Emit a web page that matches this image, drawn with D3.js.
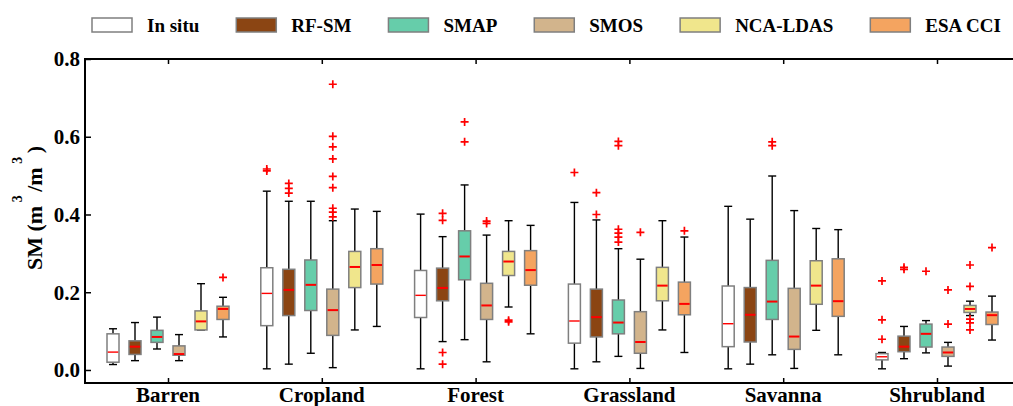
<!DOCTYPE html>
<html>
<head>
<meta charset="utf-8">
<script src="https://cdn.jsdelivr.net/npm/d3@7"></script>
<style>
  body { margin: 0; background: #fff; }
  svg { display: block; font-family: "Liberation Serif", "Times New Roman", serif; font-weight: bold; }
</style>
</head>
<body>
<div id="chart"></div>
<script>
// land cover types along the x axis
const categories = ["Barren", "Cropland", "Forest", "Grassland", "Savanna", "Shrubland"];
const seriesNames = ["In situ", "RF-SM", "SMAP", "SMOS", "NCA-LDAS", "ESA CCI"];
const seriesColors = ["#ffffff", "#8b4513", "#66cdaa", "#d2b48c", "#f0e68c", "#f4a460"];
const yTicks = [0.0, 0.2, 0.4, 0.6, 0.8];

// [lower whisker, q1, median, q3, upper whisker] per land cover
const inSitu = [
  [0.014, 0.020, 0.046, 0.093, 0.106],
  [0.003, 0.114, 0.197, 0.263, 0.460],
  [0.003, 0.135, 0.192, 0.256, 0.401],
  [0.003, 0.069, 0.126, 0.221, 0.431],
  [0.003, 0.060, 0.119, 0.216, 0.421],
  [0.003, 0.026, 0.034, 0.042, 0.045]
];
const rfSm = [
  [0.024, 0.040, 0.060, 0.075, 0.122],
  [0.015, 0.140, 0.206, 0.259, 0.434],
  [0.073, 0.178, 0.211, 0.262, 0.343],
  [0.021, 0.085, 0.136, 0.208, 0.386],
  [0.015, 0.072, 0.142, 0.212, 0.388],
  [0.029, 0.047, 0.060, 0.087, 0.112]
];
const smap = [
  [0.054, 0.071, 0.085, 0.102, 0.136],
  [0.043, 0.153, 0.219, 0.283, 0.434],
  [0.078, 0.232, 0.292, 0.358, 0.476],
  [0.035, 0.093, 0.122, 0.180, 0.312],
  [0.039, 0.130, 0.176, 0.282, 0.499],
  [0.044, 0.059, 0.093, 0.118, 0.127]
];
const smos = [
  [0.024, 0.038, 0.041, 0.062, 0.091],
  [0.006, 0.089, 0.154, 0.208, 0.384],
  [0.021, 0.130, 0.166, 0.223, 0.347],
  [0.004, 0.043, 0.072, 0.150, 0.285],
  [0.004, 0.053, 0.086, 0.210, 0.410],
  [0.010, 0.035, 0.045, 0.059, 0.071]
];
const ncaLdas = [
  [0.103, 0.103, 0.125, 0.152, 0.222],
  [0.103, 0.212, 0.265, 0.305, 0.414],
  [0.162, 0.243, 0.279, 0.305, 0.384],
  [0.103, 0.178, 0.217, 0.264, 0.384],
  [0.102, 0.169, 0.217, 0.281, 0.364],
  [0.140, 0.148, 0.157, 0.166, 0.177]
];
const esaCci = [
  [0.085, 0.130, 0.157, 0.164, 0.187],
  [0.112, 0.221, 0.270, 0.312, 0.408],
  [0.093, 0.218, 0.257, 0.307, 0.372],
  [0.045, 0.142, 0.170, 0.226, 0.342],
  [0.039, 0.138, 0.177, 0.286, 0.361],
  [0.077, 0.117, 0.141, 0.149, 0.190]
];

// outliers per land cover
const inSituOut = [[], [0.517, 0.512], [], [0.508], [], [0.229, 0.129, 0.079]];
const rfSmOut = [[], [0.480, 0.467, 0.455], [0.403, 0.385, 0.045, 0.015], [0.456, 0.400], [], [0.264, 0.259]];
const smapOut = [[], [], [0.638, 0.587], [0.588, 0.577, 0.362, 0.352, 0.342, 0.329], [0.587, 0.577], [0.254]];
const smosOut = [[], [0.735, 0.601, 0.574, 0.543, 0.498, 0.469, 0.416, 0.406, 0.394], [0.383, 0.377], [0.354], [], [0.206, 0.118]];
const ncaLdasOut = [[], [], [0.128, 0.124], [], [], [0.270, 0.215, 0.131, 0.121, 0.103]];
const esaCciOut = [[0.238], [], [], [0.358], [], [0.315]];

const stats = [inSitu, rfSm, smap, smos, ncaLdas, esaCci];
const outliers = [inSituOut, rfSmOut, smapOut, smosOut, ncaLdasOut, esaCciOut];

function boxchart(selector) {

  let width = 1013,
      height = 406,
      frame = {left: 85, top: 59, right: 1025, bottom: 383},
      boxWidth = 12,
      capWidth = 8;

  let svg = d3.select(selector)
    .append("svg")
    .attr("width", width)
    .attr("height", height);

  let x = d3.scalePoint()
    .domain(categories)
    .range([168, 937]);

  // offset of each product inside a land cover group
  let sub = d3.scaleBand()
    .domain(seriesNames)
    .range([-66, 66]);

  let y = d3.scaleLinear()
    .domain([-0.0335, 0.8])
    .range([frame.bottom, frame.top]);

  // flatten into one record per box
  let boxes = [];
  seriesNames.forEach((s, si) => {
    categories.forEach((c, ci) => {
      let v = stats[si][ci];
      boxes.push({
        series: s, color: seriesColors[si],
        cx: x(c) + sub(s) + sub.bandwidth() / 2,
        lo: v[0], q1: v[1], med: v[2], q3: v[3], hi: v[4],
        out: outliers[si][ci]
      });
    });
  });

  let g = svg.append("g");

  let box = g.selectAll("g.box")
    .data(boxes)
    .enter().append("g")
    .attr("class", "box");

  // whiskers
  box.append("line")
    .attr("x1", d => d.cx).attr("x2", d => d.cx)
    .attr("y1", d => y(d.hi)).attr("y2", d => y(d.q3))
    .attr("stroke", "#000").attr("stroke-width", 1.4);
  box.append("line")
    .attr("x1", d => d.cx).attr("x2", d => d.cx)
    .attr("y1", d => y(d.lo)).attr("y2", d => y(d.q1))
    .attr("stroke", "#000").attr("stroke-width", 1.4);
  box.append("line")
    .attr("x1", d => d.cx - capWidth / 2).attr("x2", d => d.cx + capWidth / 2)
    .attr("y1", d => y(d.hi)).attr("y2", d => y(d.hi))
    .attr("stroke", "#000").attr("stroke-width", 1.4);
  box.append("line")
    .attr("x1", d => d.cx - capWidth / 2).attr("x2", d => d.cx + capWidth / 2)
    .attr("y1", d => y(d.lo)).attr("y2", d => y(d.lo))
    .attr("stroke", "#000").attr("stroke-width", 1.4);

  // boxes
  box.append("rect")
    .attr("x", d => d.cx - boxWidth / 2)
    .attr("width", boxWidth)
    .attr("y", d => y(d.q3))
    .attr("height", d => Math.max(0.5, y(d.q1) - y(d.q3)))
    .attr("fill", d => d.color)
    .attr("stroke", "#7f7f7f")
    .attr("stroke-width", 1.5);

  // medians
  box.append("line")
    .attr("x1", d => d.cx - boxWidth / 2 + 0.75).attr("x2", d => d.cx + boxWidth / 2 - 0.75)
    .attr("y1", d => y(d.med)).attr("y2", d => y(d.med))
    .attr("stroke", "#ff0000")
    .attr("stroke-width", d => d.series == "In situ" ? 1.4 : 2);

  // outliers as red crosses
  box.selectAll("path.out")
    .data(d => d.out.map(v => ({cx: d.cx, v: v})))
    .enter().append("path")
    .attr("class", "out")
    .attr("d", d => {
      let px = d.cx, py = y(d.v), r = 4;
      return "M" + (px - r) + "," + py + "H" + (px + r) + "M" + px + "," + (py - r) + "V" + (py + r);
    })
    .attr("stroke", "#ff0000")
    .attr("stroke-width", 1.7)
    .attr("fill", "none");

  // frame
  svg.append("path")
    .attr("d", "M" + frame.right + "," + frame.top + "H" + frame.left + "V" + frame.bottom + "H" + frame.right)
    .attr("fill", "none")
    .attr("stroke", "#000")
    .attr("stroke-width", 2);

  // y axis ticks and labels
  let yAxis = svg.append("g")
    .attr("transform", "translate(" + frame.left + ",0)")
    .call(d3.axisRight(y).tickValues(yTicks).tickSize(6).tickFormat(""));
  yAxis.select(".domain").remove();
  yAxis.selectAll("line").attr("stroke", "#000").attr("stroke-width", 1.5);

  svg.append("g").selectAll("text")
    .data(yTicks)
    .enter().append("text")
    .attr("x", frame.left - 5)
    .attr("y", d => y(d))
    .attr("dy", "0.35em")
    .attr("text-anchor", "end")
    .attr("font-size", 21)
    .text(d => d.toFixed(1));

  // x axis ticks (bottom and top, pointing in)
  let xBottom = svg.append("g")
    .attr("transform", "translate(0," + frame.bottom + ")")
    .call(d3.axisTop(x).tickSize(5).tickFormat(""));
  xBottom.select(".domain").remove();
  xBottom.selectAll("line").attr("stroke", "#000").attr("stroke-width", 1.5);

  let xTop = svg.append("g")
    .attr("transform", "translate(0," + frame.top + ")")
    .call(d3.axisBottom(x).tickSize(5).tickFormat(""));
  xTop.select(".domain").remove();
  xTop.selectAll("line").attr("stroke", "#000").attr("stroke-width", 1.5);

  svg.append("g").selectAll("text")
    .data(categories)
    .enter().append("text")
    .attr("x", d => x(d))
    .attr("y", 402)
    .attr("text-anchor", "middle")
    .attr("font-size", 21)
    .text(d => d);

  // y axis title with superscripts
  let title = svg.append("text")
    .attr("transform", "translate(42,208) rotate(-90)")
    .attr("text-anchor", "middle")
    .attr("font-size", 22);
  title.append("tspan").text("SM (m");
  title.append("tspan").attr("font-size", 14).attr("dy", -20).text(" 3 ");
  title.append("tspan").attr("dy", 20).text("/m");
  title.append("tspan").attr("font-size", 14).attr("dy", -20).text(" 3 ");
  title.append("tspan").attr("dy", 20).text(")");

  // legend
  let lx = 92;
  seriesNames.forEach((s, i) => {
    let item = svg.append("g").attr("class", "legend");
    item.append("rect")
      .attr("x", lx).attr("y", 18)
      .attr("width", 40).attr("height", 14)
      .attr("fill", seriesColors[i])
      .attr("stroke", "#7f7f7f")
      .attr("stroke-width", 1.5);
    let t = item.append("text")
      .attr("x", lx + 55).attr("y", 25)
      .attr("dy", "0.35em")
      .attr("font-size", 19)
      .text(s);
    lx = lx + 55 + t.node().getComputedTextLength() + 37;
  });

  return svg;
}

boxchart("#chart");
</script>
</body>
</html>
